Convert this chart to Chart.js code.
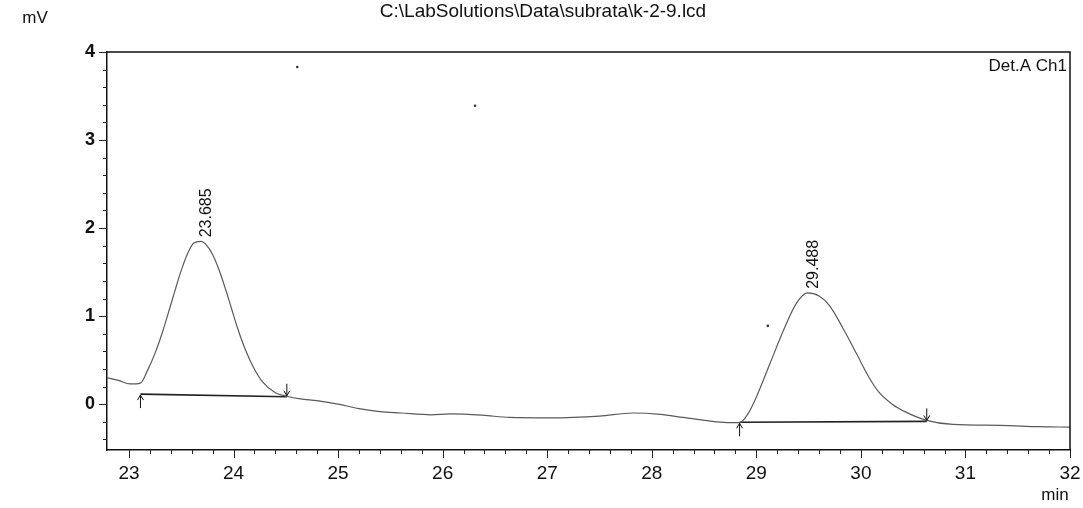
<!DOCTYPE html>
<html>
<head>
<meta charset="utf-8">
<script src="https://cdn.jsdelivr.net/npm/chart.js@4"></script>
<style>
  body { margin: 0; background: #fff; }
  canvas { display: block; }
</style>
</head>
<body>
<canvas id="chromChart" width="1083" height="508"></canvas>
<script>
// chromatogram trace (time in min, signal in mV)
const traceTimes = [22.79, 22.90, 23.01, 23.11, 23.18, 23.25, 23.31, 23.38, 23.44, 23.50, 23.56, 23.62,
  23.685, 23.74, 23.80, 23.86, 23.92, 23.98, 24.04, 24.11, 24.19, 24.28, 24.40, 24.51, 24.64, 24.80, 25.00,
  25.20, 25.40, 25.60, 25.89, 26.07, 26.38, 26.64, 27.03, 27.50, 27.82, 28.08, 28.30, 28.62, 28.84,
  28.92, 29.00, 29.13, 29.26, 29.38, 29.488, 29.60, 29.70, 29.83, 29.96, 30.08, 30.17, 30.30, 30.43,
  30.62, 30.88, 31.33, 31.70, 32.00];
const traceValues = [0.30, 0.27, 0.23, 0.24, 0.39, 0.58, 0.78, 1.05, 1.29, 1.52, 1.71, 1.83,
  1.85, 1.81, 1.70, 1.53, 1.32, 1.09, 0.86, 0.63, 0.42, 0.25, 0.13, 0.09, 0.06, 0.04, 0.00,
  -0.05, -0.085, -0.10, -0.12, -0.11, -0.125, -0.15, -0.155, -0.135, -0.10, -0.115, -0.15, -0.20, -0.21,
  -0.11, 0.08, 0.46, 0.84, 1.14, 1.265, 1.23, 1.12, 0.86, 0.57, 0.30, 0.14, 0.00, -0.09,
  -0.18, -0.23, -0.24, -0.255, -0.26];

// integrated peaks: retention time, apex height, baseline start/end
const peakTimes = [23.685, 29.488];
const peakHeights = [1.85, 1.265];
const baseStartTimes = [23.11, 28.84];
const baseStartValues = [0.115, -0.205];
const baseEndTimes = [24.51, 30.63];
const baseEndValues = [0.085, -0.195];

// dust specks on the scan
const speckTimes = [24.61, 26.31, 29.11];
const speckValues = [3.83, 3.39, 0.89];

const xTickLabels = [23, 24, 25, 26, 27, 28, 29, 30, 31, 32];
const yTickLabels = [0, 1, 2, 3, 4];

document.addEventListener('DOMContentLoaded', function () {
  const canvas = document.getElementById('chromChart');
  if (!canvas) {
    console.error('chromChart canvas not found');
    return;
  }
  createChromChart(canvas);
});

function minorTicks(from, to, step) {
  const out = [];
  for (let v = from; v <= to + 1e-9; v += step) out.push(Math.round(v * 100) / 100);
  return out;
}

function isMajor(v, labels) {
  return labels.some(l => Math.abs(l - v) < 1e-6);
}

const decorPlugin = {
  id: 'decor',
  afterDraw(chart) {
    const { ctx, chartArea: a, scales: { x, y } } = chart;
    ctx.save();

    // top and right frame
    ctx.strokeStyle = '#111';
    ctx.lineWidth = 1.5;
    ctx.beginPath();
    ctx.moveTo(a.left, a.top);
    ctx.lineTo(a.right, a.top);
    ctx.lineTo(a.right, a.bottom);
    ctx.stroke();

    // tick marks, long for labelled ones
    ctx.lineWidth = 1;
    ctx.strokeStyle = '#222';
    x.ticks.forEach(t => {
      const px = Math.round(x.getPixelForValue(t.value)) + 0.5;
      const len = t.label ? 8 : 4;
      ctx.beginPath();
      ctx.moveTo(px, a.bottom);
      ctx.lineTo(px, a.bottom + len);
      ctx.stroke();
    });
    y.ticks.forEach(t => {
      const py = Math.round(y.getPixelForValue(t.value)) + 0.5;
      const len = t.label ? 8 : 4;
      ctx.beginPath();
      ctx.moveTo(a.left, py);
      ctx.lineTo(a.left - len, py);
      ctx.stroke();
    });

    // baseline arrows
    ctx.strokeStyle = '#111';
    baseStartTimes.forEach((t, i) => {
      const px = x.getPixelForValue(t);
      const py = y.getPixelForValue(baseStartValues[i]);
      drawArrow(ctx, px, py + 14, py + 1);
    });
    baseEndTimes.forEach((t, i) => {
      const px = x.getPixelForValue(t);
      const py = y.getPixelForValue(baseEndValues[i]);
      drawArrow(ctx, px, py - 13, py - 1);
    });

    // retention time labels
    ctx.fillStyle = '#111';
    ctx.font = '16px "Liberation Sans", Arial, sans-serif';
    ctx.textAlign = 'left';
    ctx.textBaseline = 'middle';
    peakTimes.forEach((t, i) => {
      const px = x.getPixelForValue(t) + 6;
      const py = y.getPixelForValue(peakHeights[i]) - 4;
      ctx.save();
      ctx.translate(px, py);
      ctx.rotate(-Math.PI / 2);
      ctx.fillText(t.toFixed(3), 0, 0);
      ctx.restore();
    });

    // header texts
    ctx.textAlign = 'center';
    ctx.font = '19px "Liberation Sans", Arial, sans-serif';
    ctx.fillText('C:\\LabSolutions\\Data\\subrata\\k-2-9.lcd', 543, 12);
    ctx.font = '17px "Liberation Sans", Arial, sans-serif';
    ctx.fillText('mV', 35, 18);
    ctx.fillText('min', 1055, 495);
    ctx.textAlign = 'right';
    ctx.fillText('Det.A Ch1', a.right - 3, a.top + 14);

    ctx.restore();
  }
};

function drawArrow(ctx, px, fromY, toY) {
  const dir = toY < fromY ? -1 : 1;
  ctx.beginPath();
  ctx.moveTo(px, fromY);
  ctx.lineTo(px, toY);
  ctx.moveTo(px - 3, toY - dir * 5);
  ctx.lineTo(px, toY);
  ctx.lineTo(px + 3, toY - dir * 5);
  ctx.stroke();
}

function createChromChart(canvas) {
  const ctx = canvas.getContext('2d');
  const tickFont = { family: '"Liberation Sans", Arial, sans-serif', size: 19 };

  new Chart(ctx, {
    type: 'line',
    data: {
      datasets: [
        {
          label: 'Det.A Ch1',
          data: traceTimes.map((t, i) => ({ x: t, y: traceValues[i] })),
          borderColor: '#5a5a5a',
          borderWidth: 1.2,
          pointRadius: 0,
          cubicInterpolationMode: 'monotone'
        },
        ...baseStartTimes.map((t, i) => ({
          label: 'baseline ' + (i + 1),
          data: [{ x: t, y: baseStartValues[i] }, { x: baseEndTimes[i], y: baseEndValues[i] }],
          borderColor: '#222',
          borderWidth: 1.6,
          pointRadius: 0
        })),
        {
          label: 'specks',
          type: 'scatter',
          data: speckTimes.map((t, i) => ({ x: t, y: speckValues[i] })),
          backgroundColor: '#333',
          borderWidth: 0,
          pointRadius: 1.3
        }
      ]
    },
    options: {
      responsive: false,
      animation: false,
      layout: { padding: { top: 52, right: 13, left: 0, bottom: 0 } },
      plugins: {
        legend: { display: false },
        title: { display: false },
        tooltip: { enabled: false }
      },
      scales: {
        x: {
          type: 'linear',
          min: 22.79,
          max: 32,
          afterBuildTicks: scale => {
            scale.ticks = minorTicks(23, 32, 0.2).map(v => ({ value: v }));
          },
          afterFit: scale => {
            scale.height = 58;
            scale.paddingLeft = 0;
            scale.paddingRight = 0;
          },
          ticks: {
            autoSkip: false,
            maxRotation: 0,
            padding: 12,
            color: '#111',
            font: tickFont,
            callback: v => isMajor(v, xTickLabels) ? String(Math.round(v)) : ''
          },
          grid: { display: false, drawTicks: false },
          border: { display: true, color: '#111', width: 1.5 }
        },
        y: {
          type: 'linear',
          min: -0.52,
          max: 4,
          afterBuildTicks: scale => {
            scale.ticks = minorTicks(-0.4, 4, 0.2).map(v => ({ value: v }));
          },
          afterFit: scale => {
            scale.width = 107;
            scale.paddingTop = 0;
            scale.paddingBottom = 0;
          },
          ticks: {
            autoSkip: false,
            padding: 12,
            color: '#111',
            font: { ...tickFont, size: 18, weight: 'bold' },
            callback: v => isMajor(v, yTickLabels) ? String(Math.round(v)) : ''
          },
          grid: { display: false, drawTicks: false },
          border: { display: true, color: '#111', width: 1.5 }
        }
      }
    },
    plugins: [decorPlugin]
  });
}
</script>
</body>
</html>
